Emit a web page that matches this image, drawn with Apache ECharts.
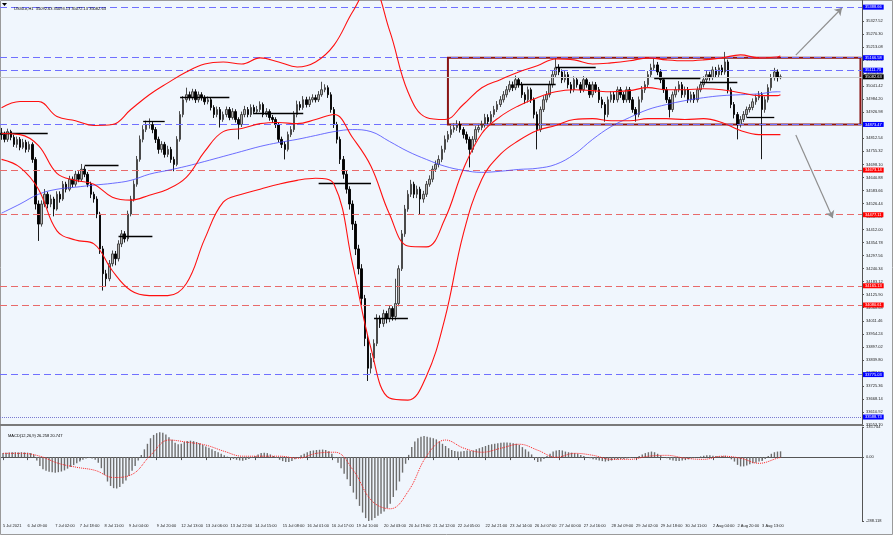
<!DOCTYPE html>
<html><head><meta charset="utf-8">
<script src="https://cdn.jsdelivr.net/npm/echarts@6/dist/echarts.min.js"></script>
<style>html,body{margin:0;padding:0;background:#fff}#c{width:893px;height:535px}</style>
</head><body><div id="c"></div><script>
// ---------- DATA ----------
const chartTitle = 'US30.e,H1  35092.63 35093.13 35072.13 35082.63';
const macdTitle = 'MACD(12,26,9) 26.258 20.747';
const xTickIdx = [0,8,17,25,33,41,50,58,66,74,82,91,99,107,115,124,132,140,148,157,165,173,181,189,198,206,214,222,231,239,247];
const xTickText = ["5 Jul 2021","6 Jul 09:00","7 Jul 02:00","7 Jul 18:00","8 Jul 11:00","9 Jul 04:00","9 Jul 20:00","12 Jul 13:00","13 Jul 06:00","13 Jul 22:00","14 Jul 15:00","15 Jul 08:00","16 Jul 01:00","16 Jul 17:00","19 Jul 10:00","20 Jul 03:00","20 Jul 19:00","21 Jul 12:00","22 Jul 05:00","22 Jul 21:00","23 Jul 14:00","26 Jul 07:00","27 Jul 00:00","27 Jul 16:00","28 Jul 09:00","29 Jul 02:00","29 Jul 18:00","30 Jul 11:00","2 Aug 04:00","2 Aug 20:00","3 Aug 13:00"];
const priceAxisMin = 33553.7, priceAxisMax = 35420, priceAxisStep = 57.22;
const macdAxisMin = -288.118, macdAxisMax = 135.744;

const firstOpen = 34835;
const closes = [34829,34808,34842,34817,34786,34808,34773,34795,34764,34786,
34720,34524,34436,34524,34567,34524,34546,34502,34567,34546,
34611,34589,34633,34611,34655,34633,34677,34655,34611,34567,
34546,34480,34327,34218,34196,34262,34305,34284,34349,34393,
34371,34480,34546,34611,34720,34808,34851,34873,34873,34851,
34808,34764,34786,34742,34764,34720,34698,34808,34917,34982,
35004,34991,35017,34982,35004,34991,34973,34982,34948,34917,
34939,34895,34917,34939,34904,34930,34895,34873,34917,34939,
34917,34948,34930,34939,34961,34917,34930,34904,34895,34873,
34808,34786,34764,34829,34851,34917,34961,34948,34982,34961,
34982,34991,34982,35004,35026,35035,35004,34939,34873,34808,
34720,34655,34589,34524,34436,34327,34240,34109,33934,33803,
33847,33912,34021,33999,34043,34021,34065,34030,34087,34240,
34393,34502,34567,34611,34567,34589,34546,34567,34611,34633,
34677,34698,34720,34764,34808,34829,34851,34860,34873,34851,
34829,34808,34764,34808,34851,34860,34873,34904,34886,34917,
34939,34961,34982,35004,35026,35048,35035,35070,35048,35004,
34982,35026,34982,34917,34851,34939,34982,35004,35048,35092,
35122,35104,35070,35092,35048,35026,35070,35048,35026,35070,
35048,35004,35048,35026,34982,34961,34917,34982,35004,34982,
35026,35004,34982,35026,34982,34939,34917,34982,35026,35048,
35092,35122,35135,35104,35070,35026,34982,34939,35004,35026,
35048,35004,35026,34982,35004,34982,35026,35048,35070,35092,
35079,35113,35092,35122,35104,35148,35026,34961,34917,34873,
34895,34917,34939,34948,34973,34991,35004,34939,34982,35035,
35079,35104,35079,35083];
const highs = [34858,34842,34855,34850,34828,34820,34818,34810,34806,34799,
34795,34730,34540,34540,34590,34578,34565,34556,34580,34580,
34625,34622,34648,34645,34670,34668,34700,34690,34665,34622,
34578,34558,34490,34340,34235,34278,34320,34318,34365,34410,
34405,34495,34560,34628,34735,34825,34870,34890,34900,34885,
34862,34820,34800,34797,34780,34775,34732,34822,34932,34998,
35035,35018,35030,35028,35018,35015,35002,34996,34992,34958,
34952,34950,34930,34952,34950,34945,34940,34905,34930,34955,
34950,34962,34960,34955,34975,34970,34945,34940,34915,34905,
34882,34820,34798,34842,34866,34932,34978,34975,34998,34995,
34996,35006,35004,35020,35061,35050,35045,35015,34950,34885,
34820,34735,34670,34602,34540,34450,34345,34260,34125,33950,
33870,33930,34040,34035,34060,34055,34080,34075,34196,34255,
34410,34520,34585,34630,34622,34605,34600,34582,34625,34650,
34692,34715,34738,34780,34825,34845,34868,34878,34892,34888,
34862,34842,34820,34822,34866,34876,34890,34920,34918,34932,
34955,34976,34998,35020,35042,35065,35062,35088,35082,35060,
35015,35040,35035,34992,34930,34952,34998,35020,35065,35108,
35166,35138,35115,35108,35104,35060,35085,35082,35060,35086,
35082,35060,35062,35060,35038,34995,34972,34996,35020,35016,
35040,35038,35016,35040,35038,34994,34950,34996,35042,35064,
35108,35140,35166,35148,35116,35082,35038,34994,35018,35040,
35064,35060,35040,35038,35018,35016,35040,35062,35085,35108,
35105,35128,35126,35136,35135,35192,35158,35036,34972,34928,
34910,34932,34952,34962,34988,35005,35020,35015,34996,35050,
35095,35122,35115,35093];
const lows = [34806,34795,34797,34804,34775,34771,34760,34765,34750,34752,
34705,34500,34362,34425,34510,34505,34510,34470,34495,34530,
34538,34575,34580,34598,34600,34620,34625,34642,34598,34550,
34530,34462,34305,34144,34160,34185,34250,34255,34272,34335,
34355,34360,34470,34535,34600,34710,34795,34840,34855,34835,
34792,34745,34750,34728,34730,34705,34668,34690,34798,34905,
34970,34978,34980,34968,34970,34978,34960,34962,34935,34902,
34905,34860,34885,34905,34892,34895,34882,34808,34862,34905,
34905,34906,34918,34920,34928,34905,34906,34890,34880,34858,
34795,34770,34720,34755,34818,34840,34905,34935,34938,34948,
34950,34970,34970,34972,34995,35015,34990,34925,34858,34790,
34700,34635,34570,34500,34410,34300,34215,34080,33900,33747,
33780,33830,33900,33980,33985,34000,34005,34012,34013,34075,
34230,34380,34490,34555,34550,34550,34480,34530,34555,34600,
34620,34665,34685,34708,34750,34795,34815,34838,34845,34838,
34812,34790,34685,34750,34795,34838,34848,34860,34870,34875,
34905,34928,34950,34970,34992,35015,35020,35024,35035,34990,
34965,34970,34968,34900,34764,34840,34928,34970,34992,35035,
35080,35090,35055,35058,35032,35010,35015,35035,35012,35015,
35035,34990,34992,35012,34968,34945,34886,34905,34970,34968,
34970,34990,34968,34970,34968,34925,34886,34905,34970,35012,
35035,35080,35110,35090,35055,35012,34968,34904,34928,34992,
35015,34990,34992,34968,34970,34968,34970,35015,35036,35058,
35066,35068,35078,35080,35090,35092,35010,34945,34900,34808,
34860,34884,34905,34926,34936,34960,34980,34721,34925,34970,
35022,35066,35062,35072];

// indicator samples (bar index -> value)
const bandIdx = [0,6,12,18,24,30,36,42,48,54,60,66,72,78,84,90,96,102,108,114,120,126,132,138,144,150,156,162,168,174,180,186,192,198,204,210,216,222,228,234,240,246,252,253];
const bbUpper = [34947,34974,34974,34908,34890,34869,34873,34939,35004,35056,35104,35139,35148,35139,35166,35148,35126,35148,35222,35367,35485,35288,35017,34904,34895,34961,35035,35070,35104,35131,35161,35157,35139,35144,35153,35166,35157,35153,35157,35166,35179,35166,35170,35174];
const bbMiddle = [34834,34829,34781,34659,34628,34611,34554,34541,34563,34589,34641,34755,34842,34856,34877,34882,34877,34895,34917,34816,34690,34480,34340,34336,34458,34677,34834,34908,34956,34991,35017,35026,35022,35017,35022,35035,35026,35026,35030,35026,35013,35000,35000,35004];
const bbLower = [34720,34685,34589,34406,34366,34349,34231,34144,34122,34122,34174,34371,34532,34567,34589,34611,34628,34637,34611,34262,33890,33672,33663,33768,34021,34393,34633,34742,34803,34847,34869,34895,34899,34890,34890,34899,34899,34895,34899,34882,34847,34829,34829,34829];
const maLine = [34484,34524,34567,34589,34598,34607,34615,34628,34655,34672,34690,34711,34733,34755,34777,34794,34808,34825,34842,34851,34842,34799,34755,34720,34690,34672,34663,34668,34676,34681,34698,34742,34808,34864,34904,34939,34961,34978,34991,35000,35004,35008,35017,35017];
const macdSignal = [17,17,4,-28,-46,-60,-92,-78,8,77,67,54,26,4,4,4,-5,17,22,-60,-197,-233,-151,8,77,40,22,40,58,31,-1,17,8,-10,-10,4,8,-5,-10,4,-5,-28,-5,-1];
const macdHist = [18,20,21,22,22,21,22,21,20,18,
12,-15,-40,-55,-62,-66,-68,-70,-68,-65,
-60,-52,-44,-36,-28,-20,-12,-6,-4,-6,
-12,-25,-50,-80,-110,-130,-140,-142,-135,-120,
-105,-85,-62,-40,-15,10,35,60,85,100,
108,112,110,102,90,78,65,58,60,68,
72,74,72,68,62,55,48,42,35,28,
22,15,8,2,-4,-8,-12,-15,-16,-13,
-8,-2,5,12,18,20,18,12,5,-4,
-12,-18,-22,-22,-18,-10,-2,8,15,22,
28,30,32,33,34,32,26,15,-5,-25,
-50,-75,-100,-130,-160,-190,-220,-250,-275,-288,
-285,-275,-265,-255,-245,-230,-210,-180,-150,-110,
-70,-30,10,45,70,85,92,95,92,88,
85,80,70,60,50,40,32,28,25,25,
28,30,28,30,35,40,45,50,55,58,
60,62,65,66,66,65,62,60,55,45,
35,25,12,-5,-22,-20,-8,5,15,25,
30,32,30,25,22,20,18,15,10,5,
0,-5,-10,-12,-15,-18,-20,-18,-15,-12,
-10,-8,-8,-6,-4,-2,0,5,12,18,
22,25,22,15,8,0,-5,-12,-15,-18,
-18,-15,-12,-10,-6,-3,0,3,6,8,
8,6,5,4,5,6,0,-10,-20,-35,
-42,-42,-38,-32,-28,-25,-20,-18,-8,5,
15,22,25,26];

// horizontal levels
const blueLevels = [35388.66, 35166.58, 35111.73, 34873.47, 33775.03];
const redLevels = [34673.14, 34477.11, 34165.13, 34080.61];
const dottedLevel = 33588.73;
const bidPrice = 35082.63;
// rectangle (bar index range, price range)
const rectStart = 145, rectEnd = 279, rectTop = 35166.58, rectBottom = 34873.47;
// black daily segments
const segStart = [0,27,38,46,58,82,103,121,167,180,212,227,242];
const segEnd =   [15,38,49,53,74,98,120,132,180,193,227,239,251];
const segPrice = [34836,34695,34384,34889,34994,34924,34616,34024,35051,35126,35077,35060,34906];
// arrows
const arrowFromIdx = [258,258], arrowFromPrice = [35178,34827];
const arrowToIdx = [273,270], arrowToPrice = [35385,34463];
const nCats = 280;

// ---------- BUILD ----------
const categories = new Array(nCats).fill('');
xTickIdx.forEach((k,j)=>{categories[k]=xTickText[j];});
const candleData = closes.map((c,i)=>[i===0?firstOpen:closes[i-1], c, lows[i], highs[i]]);
const pair = vals => bandIdx.map((k,j)=>[k, vals[j]]);
const isTick = (idx)=>categories[idx] !== '';
const FS = 4;
const FONT = 'Liberation Sans';

function levelItem(v, lineColor, bg, type){
  return {yAxis:v, lineStyle:{color:lineColor, type:type, width:1},
    label:{show:true, position:'end', distance:1, formatter:v.toFixed(2), backgroundColor:bg, color:'#fff', fontSize:FS, fontFamily:FONT, padding:[1,2,0,2]}};
}
const levelData = []
  .concat(blueLevels.map(v=>levelItem(v,'#7070ff','#0000ff',[7,4])))
  .concat(redLevels.map(v=>levelItem(v,'#e86a6a','#ff0000',[7,4])))
  .concat([levelItem(dottedLevel,'#7a7ad0','#0000ff','dotted')])
  .concat([levelItem(bidPrice,'#c8c8c8','#000000','solid')]);

const segData = segStart.map((s,j)=>[{coord:[s,segPrice[j]], lineStyle:{color:'#000',width:1.3,type:'solid'}},{coord:[segEnd[j],segPrice[j]]}]);
const arrowData = arrowFromIdx.map((s,j)=>[{coord:[s,arrowFromPrice[j]]},{coord:[arrowToIdx[j],arrowToPrice[j]]}]);

const chart = echarts.init(document.getElementById('c'));
chart.setOption({
  animation:false,
  backgroundColor:'#f0f6fd',
  textStyle:{fontFamily:FONT},
  title:[
    {text:chartTitle, left:9, top:2, textStyle:{fontSize:FS, fontWeight:'normal', color:'#000', fontFamily:FONT}},
    {text:macdTitle, left:3, top:429, textStyle:{fontSize:FS, fontWeight:'normal', color:'#000', fontFamily:FONT}}
  ],
  graphic:[
    {type:'rect', shape:{x:0.5,y:0.5,width:892,height:534}, style:{fill:'none', stroke:'#9a9a9a', lineWidth:1}, silent:true},
    {type:'polygon', shape:{points:[[2,3],[7,3],[4.5,6]]}, style:{fill:'#000'}, silent:true}
  ],
  grid:[
    {left:0, right:31, top:0, height:425},
    {left:0, right:31, top:427, height:94}
  ],
  xAxis:[
    {type:'category', gridIndex:0, data:categories, boundaryGap:true,
     axisLine:{show:true, lineStyle:{color:'#7a7a7a', width:2}}, axisTick:{show:false}, axisLabel:{show:false}, splitLine:{show:false}},
    {type:'category', gridIndex:1, data:categories, boundaryGap:true,
     axisLine:{show:true, lineStyle:{color:'#555', width:1}},
     axisTick:{show:true, interval:isTick, alignWithLabel:true, length:3, lineStyle:{color:'#555'}},
     axisLabel:{show:true, interval:isTick, align:'left', margin:3, fontSize:FS, color:'#222', fontFamily:FONT},
     splitLine:{show:false}}
  ],
  yAxis:[
    {type:'value', gridIndex:0, position:'right', min:priceAxisMin, max:priceAxisMax, interval:priceAxisStep, scale:true,
     axisLine:{show:true, lineStyle:{color:'#555'}}, axisTick:{show:true, length:2, lineStyle:{color:'#555'}},
     axisLabel:{show:true, fontSize:FS, color:'#222', margin:4, fontFamily:FONT, showMaxLabel:false, showMinLabel:true, formatter:v=>v.toFixed(2)},
     splitLine:{show:false}},
    {type:'value', gridIndex:1, position:'right', min:macdAxisMin, max:macdAxisMax, interval:-macdAxisMin,
     axisLine:{show:true, lineStyle:{color:'#555'}}, axisTick:{show:true, length:2, lineStyle:{color:'#555'}},
     axisLabel:{show:true, fontSize:FS, color:'#222', margin:4, fontFamily:FONT, showMaxLabel:true, showMinLabel:true,
       formatter:v=>Math.abs(v)<1e-9?'0.00':v.toFixed(3)},
     splitLine:{show:false}}
  ],
  series:[
    {type:'candlestick', xAxisIndex:0, yAxisIndex:0, data:candleData, barWidth:2, z:2,
     itemStyle:{color:'#b4b4b4', color0:'#000000', borderColor:'#3a3a3a', borderColor0:'#000000', borderWidth:0.9},
     markLine:{silent:true, symbol:['none','none'], precision:2, data:levelData, z:3},
     markArea:{silent:true, itemStyle:{color:'rgba(0,0,0,0)', borderColor:'#8a1515', borderWidth:2},
       data:[[{coord:[rectStart,rectTop]},{coord:[rectEnd,rectBottom]}]]}},
    {type:'line', xAxisIndex:0, yAxisIndex:0, data:pair(maLine), showSymbol:false, smooth:0.4, z:4,
     lineStyle:{color:'#4a4aff', width:0.8},
     markLine:{silent:true, symbol:['none','arrow'], symbolSize:7, label:{show:false},
       lineStyle:{color:'#8f8f8f', width:1.2, type:'solid'}, data:arrowData}},
    {type:'line', xAxisIndex:0, yAxisIndex:0, data:pair(bbUpper), showSymbol:false, smooth:0.4, z:5, lineStyle:{color:'#ff1010', width:1.1}},
    {type:'line', xAxisIndex:0, yAxisIndex:0, data:pair(bbMiddle), showSymbol:false, smooth:0.4, z:5, lineStyle:{color:'#ff1010', width:1.1},
     markLine:{silent:true, symbol:['none','none'], label:{show:false}, lineStyle:{color:'#000', width:1.3, type:'solid'}, data:segData}},
    {type:'line', xAxisIndex:0, yAxisIndex:0, data:pair(bbLower), showSymbol:false, smooth:0.4, z:5, lineStyle:{color:'#ff1010', width:1.1}},
    {type:'bar', xAxisIndex:1, yAxisIndex:1, data:macdHist, barWidth:1.4, itemStyle:{color:'#6e6e6e'}},
    {type:'line', xAxisIndex:1, yAxisIndex:1, data:pair(macdSignal), showSymbol:false, smooth:0.4, z:4,
     lineStyle:{color:'#ff2020', width:1, type:'dotted'}}
  ]
});
</script></body></html>
